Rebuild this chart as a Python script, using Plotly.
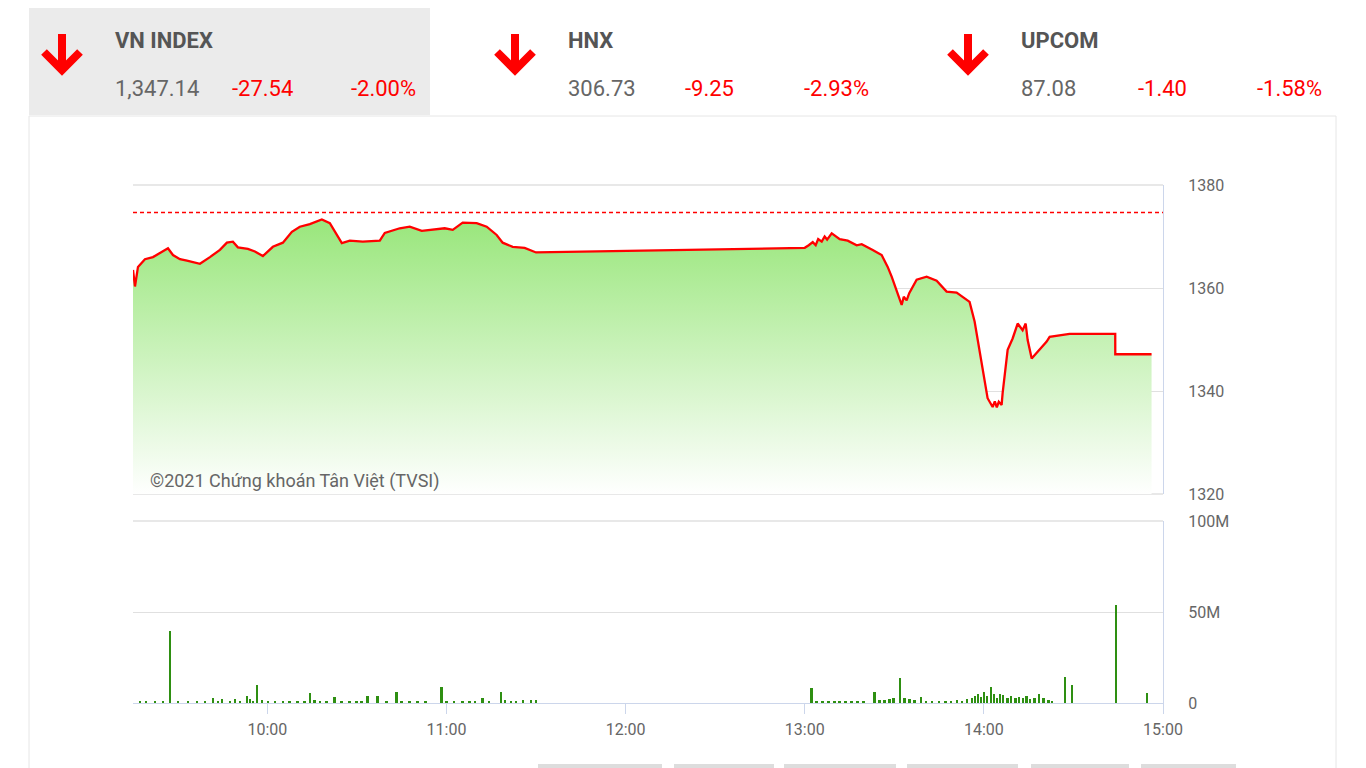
import plotly.graph_objects as go

W, H = 1366, 768
DAY = "2021-07-19"

# ---------------- header data ----------------
index_names = ["VN INDEX", "HNX", "UPCOM"]
index_values = ["1,347.14", "306.73", "87.08"]
index_changes = ["-27.54", "-9.25", "-1.40"]
index_pcts = ["-2.00%", "-2.93%", "-1.58%"]

reference_level = 1374.68  # previous close (1,347.14 + 27.54)

# ---------------- intraday price ----------------
price_times = [
    "09:15:00", "09:15:40", "09:16:40", "09:19:00", "09:21:41", "09:24:02", "09:26:43",
    "09:28:23", "09:30:44", "09:33:04", "09:37:25", "09:40:46", "09:44:07", "09:46:27",
    "09:48:28", "09:50:08", "09:53:29", "09:55:50", "09:58:30", "10:01:51", "10:05:12",
    "10:08:13", "10:10:53", "10:14:14", "10:18:15", "10:20:56", "10:22:36", "10:24:57",
    "10:27:37", "10:31:58", "10:37:40", "10:39:20", "10:44:21", "10:47:42", "10:51:43",
    "10:55:24", "10:59:25", "11:02:06", "11:05:26", "11:10:07", "11:13:28", "11:16:49",
    "11:18:49", "11:22:10", "11:26:11", "11:30:00",
    "13:00:00", "13:01:20", "13:02:41", "13:03:40", "13:04:30", "13:05:41", "13:06:40",
    "13:07:30", "13:09:02", "13:11:43", "13:14:23", "13:17:24",
    "13:19:05", "13:22:46", "13:25:46", "13:27:47", "13:29:07", "13:32:28", "13:33:10",
    "13:34:08", "13:35:00", "13:37:29", "13:40:50", "13:44:11", "13:47:31", "13:50:52",
    "13:54:13", "13:55:13", "13:56:54", "13:57:54", "13:59:35", "14:01:15", "14:02:56",
    "14:03:40", "14:04:20", "14:05:00", "14:05:57", "14:06:17",
    "14:07:58", "14:09:38", "14:11:19", "14:12:59", "14:14:00", "14:14:40", "14:16:01",
    "14:18:41", "14:21:02", "14:22:02", "14:28:43", "14:44:00", "14:44:01", "14:56:10",
]
price_values = [
    1363.5, 1360.3, 1364.1, 1365.6, 1366.0, 1366.8, 1367.7,
    1366.4, 1365.6, 1365.3, 1364.7, 1366.0, 1367.4, 1368.8,
    1369.0, 1367.9, 1367.6, 1367.1, 1366.2, 1368.0, 1368.8,
    1370.9, 1371.9, 1372.4, 1373.3, 1372.6, 1370.9, 1368.7,
    1369.2, 1369.0, 1369.2, 1370.7, 1371.6, 1371.9, 1371.1,
    1371.3, 1371.6, 1371.3, 1372.7, 1372.6, 1371.9, 1370.3,
    1368.8, 1368.0, 1367.8, 1366.9,
    1367.8, 1368.3, 1368.9, 1368.3, 1369.5, 1369.0, 1370.0,
    1369.4, 1370.6, 1369.5, 1369.2, 1368.3,
    1368.5, 1367.4, 1366.4, 1364.1, 1362.2, 1356.7, 1358.3,
    1357.6, 1359.0, 1361.6, 1362.2, 1361.4, 1359.3, 1359.1,
    1357.7, 1357.3, 1353.5, 1349.9, 1344.1, 1338.6, 1336.9,
    1338.0, 1336.8, 1337.9, 1337.3, 1339.6,
    1348.0, 1350.2, 1353.1, 1351.8, 1353.1, 1349.9, 1346.3,
    1348.0, 1349.6, 1350.5, 1351.1, 1351.1, 1347.14, 1347.14,
]

# ---------------- intraday volume (millions of shares) ----------------
volume_times = [
    "09:17:20", "09:19:21", "09:22:22", "09:25:02", "09:27:33", "09:30:04", "09:33:24",
    "09:36:25", "09:39:05", "09:41:46", "09:43:26", "09:44:47", "09:47:28", "09:49:08",
    "09:50:48", "09:53:09", "09:54:10", "09:55:10", "09:56:40", "09:58:10", "10:00:10",
    "10:02:31", "10:05:12", "10:07:32", "10:10:12", "10:12:33", "10:14:14", "10:15:54",
    "10:17:35", "10:19:55", "10:22:36", "10:24:57", "10:27:37", "10:29:57", "10:31:38",
    "10:33:38", "10:36:59", "10:39:59", "10:43:20", "10:45:00", "10:47:41", "10:50:22",
    "10:53:02", "10:58:23", "11:00:04", "11:02:44", "11:05:25", "11:07:46", "11:09:46",
    "11:12:07", "11:14:27", "11:18:22", "11:19:48", "11:21:49", "11:23:29", "11:25:50",
    "11:28:30", "11:30:00",
    "13:02:21", "13:04:01", "13:06:02", "13:08:03", "13:10:03", "13:11:43", "13:13:44",
    "13:15:44", "13:17:45", "13:19:46", "13:23:27", "13:25:07", "13:26:48", "13:28:28",
    "13:29:48", "13:32:03", "13:33:29", "13:35:09", "13:36:50", "13:39:04", "13:40:50",
    "13:42:50", "13:45:11", "13:47:12", "13:49:12", "13:51:13", "13:52:53", "13:54:34",
    "13:56:14", "13:57:14", "13:58:14", "13:59:15", "14:00:15", "14:01:15", "14:02:36",
    "14:03:36", "14:04:36", "14:05:37", "14:06:37", "14:07:58", "14:09:18", "14:10:39",
    "14:11:59", "14:13:19", "14:14:20", "14:15:40", "14:17:01", "14:18:41", "14:20:02",
    "14:21:42", "14:23:02", "14:27:17", "14:29:30", "14:44:25", "14:54:40",
]
volume_millions = [
    1.0, 0.8, 0.8, 1.0, 39.7, 0.8, 1.0,
    0.8, 1.2, 2.5, 1.0, 2.2, 1.0, 2.0,
    1.0, 4.0, 2.0, 1.0, 10.0, 1.5, 1.0,
    0.8, 1.0, 0.8, 1.0, 0.8, 5.3, 1.5,
    0.8, 0.6, 3.5, 1.0, 1.0, 0.8, 1.0,
    3.8, 3.8, 1.0, 6.2, 1.0, 0.8, 0.8,
    0.6, 9.0, 1.2, 1.0, 1.0, 1.0, 1.0,
    3.0, 0.8, 6.2, 1.5, 1.0, 0.8, 1.5,
    1.5, 1.5,
    8.0, 1.0, 0.6, 0.6, 0.6, 0.8, 1.0,
    0.6, 0.8, 1.0, 6.2, 1.5, 1.5, 2.0,
    3.0, 13.5, 3.0, 2.0, 1.5, 3.5, 1.0,
    0.8, 0.8, 1.0, 0.8, 1.5, 1.0, 2.0,
    3.0, 4.0, 5.0, 3.5, 6.0, 4.0, 9.0,
    5.0, 3.0, 5.0, 4.5, 3.0, 4.0, 3.0,
    3.5, 2.5, 3.8, 2.0, 3.0, 5.0, 2.5,
    1.5, 1.0, 14.5, 9.9, 53.8, 5.3,
]

price_ticks = [1320, 1340, 1360, 1380]
volume_ticks = [0, 50, 100]
volume_tick_labels = ["0", "50M", "100M"]
hour_ticks = ["10:00", "11:00", "12:00", "13:00", "14:00", "15:00"]
session_range = ["09:15", "15:00"]


def X(px):
    return px / W


def Y(py):
    return 1 - py / H


def ts(t):
    return f"{DAY} {t}"


FONT = "Roboto"
GREY_TXT = "#666666"
RED = "#ff0000"
AXIS_BLUE = "#ccd6eb"
GRID = "#e0e0e0"

fig = go.Figure()

fig.add_trace(go.Scatter(
    x=[ts(t) for t in price_times], y=price_values,
    mode="lines", line=dict(color=RED, width=2.3),
    fill="tozeroy",
    fillgradient=dict(type="vertical", start=1320, stop=1374,
                      colorscale=[[0, "rgba(255,255,255,1)"], [1, "#98e67a"]]),
    xaxis="x", yaxis="y", hoverinfo="skip", showlegend=False,
))

fig.add_trace(go.Bar(
    x=[ts(t) for t in volume_times], y=volume_millions,
    width=34000, marker=dict(color="#2e8f12", line=dict(width=0)),
    xaxis="x", yaxis="y2", hoverinfo="skip", showlegend=False,
))

shapes = []
# container and grey header box
shapes.append(dict(type="rect", xref="paper", yref="paper", x0=X(29), x1=X(1336), y0=Y(116), y1=Y(800),
                   fillcolor="white", line=dict(color="#e6e6e6", width=1), layer="below"))
shapes.append(dict(type="rect", xref="paper", yref="paper", x0=X(29), x1=X(430), y0=Y(8), y1=Y(115),
                   fillcolor="#ebebeb", line=dict(width=0), layer="below"))
# arrows
for ax in [62, 515, 968]:
    shapes.append(dict(type="path", xref="paper", yref="paper",
                       path=f"M {X(ax)} {Y(34)} L {X(ax)} {Y(70)}",
                       line=dict(color=RED, width=8)))
    shapes.append(dict(type="path", xref="paper", yref="paper",
                       path=f"M {X(ax-18)} {Y(52)} L {X(ax)} {Y(70)} L {X(ax+18)} {Y(52)}",
                       line=dict(color=RED, width=8)))
# frame lines at the top/bottom edges of the panels (grid at range ends)
for yr in ["y", "y2"]:
    for yy in [0, 1]:
        if yr == "y2" and yy == 0:
            continue
        shapes.append(dict(type="line", xref="x domain", yref=f"{yr} domain", x0=0, x1=1, y0=yy, y1=yy,
                           line=dict(color=GRID, width=1.5), layer="below"))
# reference (previous close) line
shapes.append(dict(type="line", xref="x domain", yref="y", x0=0, x1=1,
                   y0=reference_level, y1=reference_level,
                   line=dict(color=RED, width=1.5, dash="4px,3px")))
# little grey tabs at the bottom
for a, b in [(538, 662), (674, 774), (784, 896), (907, 1018), (1031, 1129), (1141, 1236)]:
    shapes.append(dict(type="rect", xref="paper", yref="paper", x0=X(a), x1=X(b), y0=Y(764), y1=Y(772),
                       fillcolor="#dddddd", line=dict(width=0)))

annotations = []
name_x = [113, 566, 1019]
chg_x = [230, 683, 1136]
pct_right = [418, 871, 1324]
for i in range(3):
    annotations.append(dict(xref="paper", yref="paper", x=X(name_x[i]), y=Y(40), xanchor="left", yanchor="middle",
                            text=f"<b>{index_names[i]}</b>", showarrow=False,
                            font=dict(family=FONT, size=22, color="#555555")))
    annotations.append(dict(xref="paper", yref="paper", x=X(name_x[i]), y=Y(88), xanchor="left", yanchor="middle",
                            text=index_values[i], showarrow=False,
                            font=dict(family=FONT, size=22, color=GREY_TXT)))
    annotations.append(dict(xref="paper", yref="paper", x=X(chg_x[i]), y=Y(88), xanchor="left", yanchor="middle",
                            text=index_changes[i], showarrow=False,
                            font=dict(family=FONT, size=22, color=RED)))
    annotations.append(dict(xref="paper", yref="paper", x=X(pct_right[i]), y=Y(88), xanchor="right", yanchor="middle",
                            text=index_pcts[i], showarrow=False,
                            font=dict(family=FONT, size=22, color=RED)))
annotations.append(dict(xref="paper", yref="paper", x=X(148), y=Y(481), xanchor="left", yanchor="middle",
                        text="©2021 Chứng khoán Tân Việt (TVSI)", showarrow=False,
                        font=dict(family=FONT, size=18, color=GREY_TXT)))

fig.update_layout(
    width=W, height=H,
    margin=dict(l=0, r=0, t=0, b=0),
    paper_bgcolor="white", plot_bgcolor="rgba(0,0,0,0)",
    font=dict(family=FONT, size=16, color=GREY_TXT),
    showlegend=False,
    bargap=0,
    xaxis=dict(
        type="date", domain=[X(133), X(1163)], anchor="y2",
        range=[ts(session_range[0]), ts(session_range[1])],
        tickvals=[ts(t) for t in hour_ticks], ticktext=hour_ticks,
        ticks="outside", ticklen=10, tickcolor=AXIS_BLUE, tickwidth=1,
        showline=True, linecolor=AXIS_BLUE, linewidth=1,
        showgrid=False, zeroline=False, fixedrange=True,
        ticklabelstandoff=2,
        tickfont=dict(family=FONT, size=16, color=GREY_TXT),
        automargin=False,
    ),
    yaxis=dict(
        domain=[Y(494), Y(185)], anchor="x", side="right",
        range=[1320, 1380], tickvals=price_ticks,
        showgrid=True, gridcolor=GRID, gridwidth=1,
        showline=True, linecolor=AXIS_BLUE, linewidth=1,
        zeroline=False, ticks="", ticklabelstandoff=21,
        tickfont=dict(family=FONT, size=16, color=GREY_TXT),
        automargin=False, fixedrange=True,
    ),
    yaxis2=dict(
        domain=[Y(703), Y(521)], anchor="x", side="right",
        range=[0, 100], tickvals=volume_ticks, ticktext=volume_tick_labels,
        showgrid=True, gridcolor=GRID, gridwidth=1,
        showline=True, linecolor=AXIS_BLUE, linewidth=1,
        zeroline=False, ticks="", ticklabelstandoff=21,
        tickfont=dict(family=FONT, size=16, color=GREY_TXT),
        automargin=False, fixedrange=True,
    ),
    shapes=shapes,
    annotations=annotations,
)

fig.write_html("out.html", config={"displayModeBar": False},
               post_script="document.body.style.margin='0';document.body.style.overflow='hidden';")
